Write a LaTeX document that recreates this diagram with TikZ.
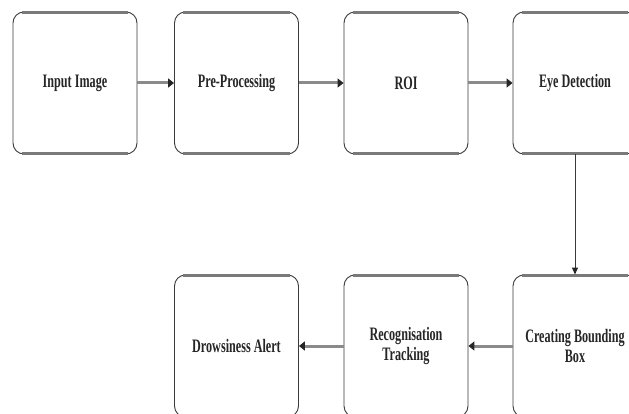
\documentclass[tikz,border=0pt]{standalone}
\usepackage{fontspec}
\setmainfont{Liberation Serif}
\newfontfamily\boxfont[FakeStretch=0.64]{Liberation Serif}
\usetikzlibrary{arrows.meta}
\definecolor{edge}{HTML}{3A3A3A}
\definecolor{band}{HTML}{7A7A7A}
\definecolor{shaft}{HTML}{8A8A8A}
\tikzset{
  stepbox/.style={draw=edge, line width=0.9pt, rounded corners=11pt, fill=white,
    minimum width=124pt, minimum height=142pt, align=center,
    font=\boxfont\bfseries\fontsize{19}{20}\selectfont, text=black!85},
  bigarrow/.style={draw=shaft, line width=3pt, -{Triangle[length=6pt,width=9pt,color=black!85]}},
  thinarrow/.style={draw=edge, line width=1pt, -{Triangle[length=7pt,width=6pt,color=black!85]}},
  bandline/.style={draw=band, line width=3.5pt}
}
\newcommand{\bands}[1]{%
  \draw[bandline] ([xshift=9pt,yshift=-1pt]#1.north west) -- ([xshift=-9pt,yshift=-1pt]#1.north east);
  \draw[bandline] ([xshift=9pt,yshift=1pt]#1.south west) -- ([xshift=-9pt,yshift=1pt]#1.south east);}
\begin{document}
\begin{tikzpicture}[x=1pt,y=-1pt]
\useasboundingbox (0,0) rectangle (629,414);
\clip (0,0) rectangle (629,414);
\node[stepbox] (in) at (75,83) {Input Image};
\node[stepbox] (pre) at (236.5,83) {Pre-Processing};
\node[stepbox] (roi) at (406,83) {ROI};
\node[stepbox] (eye) at (575,83) {Eye Detection};
\node[stepbox] (cbb) at (575,346) {Creating Bounding\\Box};
\node[stepbox] (rec) at (406,346) {Recognisation\\Tracking};
\node[stepbox] (da) at (236.5,346) {Drowsiness Alert};
\bands{in}\bands{pre}\bands{roi}\bands{eye}\bands{cbb}\bands{rec}\bands{da}
\draw[bigarrow] (in) -- (pre);
\draw[bigarrow] (pre) -- (roi);
\draw[bigarrow] (roi) -- (eye);
\draw[thinarrow] (eye) -- (cbb);
\draw[bigarrow] (cbb) -- (rec);
\draw[bigarrow] (rec) -- (da);
\end{tikzpicture}
\end{document}
